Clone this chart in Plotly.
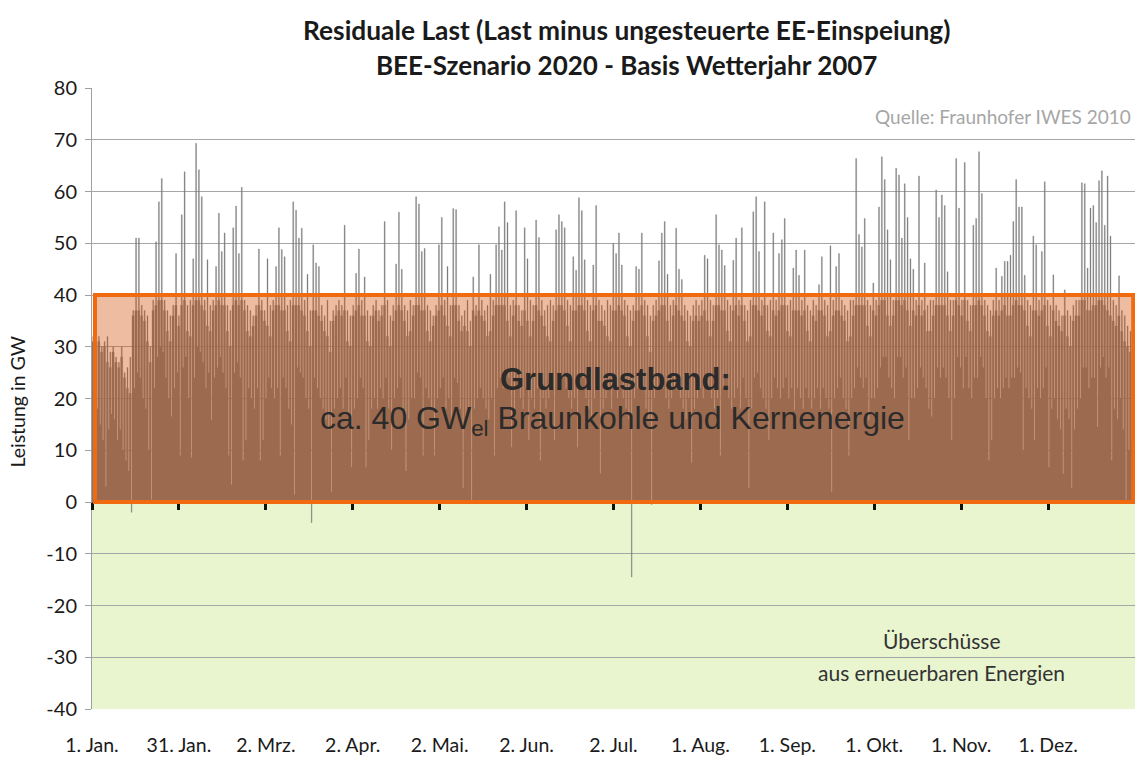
import plotly.graph_objects as go

# Daily peak residual load (GW), day 0 = 1 Jan
daily_peak = [
    32, 31, 32, 30, 31, 32, 29,
    30, 28, 27, 30, 25, 26, 28,
    37, 51, 51, 38, 37, 36, 30,
    39, 50.3, 58, 62.5, 39, 37, 36,
    38, 48, 36, 55.5, 63.8, 38, 39,
    47, 69.3, 64.2, 59, 39, 46.8, 38,
    39, 45.5, 55.8, 48.4, 52, 38, 37,
    53, 57.2, 48, 60.8, 39, 38, 37,
    36, 38, 48.9, 39, 37, 47, 38,
    39, 45.5, 53, 48.8, 47.4, 38, 39,
    58, 56.4, 51, 52.9, 39, 44, 37,
    49.7, 46.2, 45.5, 38, 36, 39, 35,
    37, 38, 39, 38, 53.5, 37, 36,
    38, 44.2, 48.9, 39, 43.5, 37, 36,
    38, 39, 37, 38, 54.2, 39, 36,
    38, 46, 56, 45, 38, 37, 39,
    38, 59, 57.6, 48.4, 49, 38, 37,
    36, 38, 49.7, 55, 39, 45.5, 38,
    56.7, 56.5, 38, 36, 37, 39, 35,
    43.5, 38, 49.7, 39, 37, 38, 44,
    39, 49.7, 53.2, 48.7, 58, 54, 38,
    39, 56.3, 38, 37, 53, 47, 39,
    38, 54.5, 51.1, 39, 37, 38, 39,
    38, 52.6, 55.5, 54.2, 53, 39, 38,
    47.4, 44.8, 58.8, 56.3, 46.8, 39, 38,
    45.8, 57.3, 39, 38, 37, 39, 38,
    50, 48, 52, 45.8, 39, 38, 37,
    38, 45.5, 45, 52, 39, 38, 36,
    38, 39, 46.6, 52, 54.2, 44, 38,
    39, 52.9, 45, 43, 38, 37, 36,
    38, 39, 38, 39, 47.7, 47, 39,
    38, 55.5, 49.7, 48.7, 45.7, 39, 38,
    46.7, 51, 39, 53, 38, 37, 39,
    56.1, 59, 48.4, 39, 58, 38, 39,
    52, 39, 48, 50.7, 54.8, 38, 39,
    45.2, 48.7, 43.8, 39, 48.7, 38, 37,
    39, 38, 42, 47.4, 39, 38, 49.5,
    39, 45.5, 48, 39, 38, 37, 39,
    39, 66.4, 51.7, 49.3, 54.8, 39, 38,
    42.3, 39, 57, 66.7, 62.3, 52.6, 46.8,
    39, 64.5, 63.2, 51, 61.5, 55, 47,
    45, 39, 63, 39, 46.2, 38, 39,
    39, 60.3, 55, 59.3, 57.3, 44.5, 39,
    39, 66.4, 56.8, 39, 65.6, 39, 38,
    53.5, 54.8, 67.7, 59.6, 39, 38, 37,
    39, 45.2, 39, 43.6, 46.5, 46.5, 47.7,
    54.2, 62.3, 57, 57, 43.8, 39, 38,
    51.4, 49.7, 39, 48.4, 61.9, 39, 38,
    43.9, 38, 37, 36, 41, 37, 36,
    38, 39, 39, 61.7, 61.5, 45.2, 56.8,
    57.3, 54, 62.1, 64, 53.5, 63, 51.4,
    39, 38, 43.7, 37, 36, 34, 33,
    32,
]

# Typical daytime level (GW) around the peak, read from the brown envelope
daily_level = [
    31, 30, 31, 29, 30, 27, 26,
    29, 27, 26, 28, 24, 22, 21,
    36, 37, 37, 36, 35, 31, 27,
    37, 38, 39, 39, 37, 33, 31,
    36, 38, 34, 38, 39, 33, 32,
    38, 39, 39, 38, 37, 34, 33,
    37, 38, 39, 38, 38, 33, 30,
    38, 39, 38, 39, 37, 33, 32,
    34, 36, 38, 37, 35, 34, 32,
    37, 38, 38, 37, 37, 33, 31,
    38, 38, 38, 37, 36, 33, 30,
    37, 37, 36, 35, 33, 32, 29,
    35, 36, 37, 36, 37, 31, 30,
    36, 37, 38, 36, 36, 31, 30,
    36, 37, 35, 36, 38, 32, 30,
    35, 37, 38, 37, 35, 32, 33,
    36, 38, 38, 37, 37, 33, 31,
    34, 36, 37, 38, 36, 34, 32,
    38, 38, 35, 33, 34, 33, 30,
    37, 36, 37, 36, 35, 32, 33,
    36, 38, 38, 38, 38, 35, 32,
    36, 38, 35, 34, 37, 35, 32,
    35, 38, 37, 36, 34, 32, 31,
    35, 37, 38, 38, 37, 34, 31,
    37, 37, 38, 38, 37, 33, 31,
    37, 38, 35, 35, 34, 32, 31,
    37, 37, 38, 37, 36, 32, 30,
    35, 37, 37, 38, 36, 32, 29,
    35, 36, 37, 38, 38, 35, 31,
    36, 38, 37, 36, 35, 31, 30,
    35, 36, 35, 36, 37, 35, 32,
    35, 38, 38, 37, 37, 33, 31,
    37, 38, 36, 38, 35, 31, 32,
    38, 38, 37, 36, 38, 33, 32,
    37, 36, 37, 38, 38, 33, 32,
    37, 37, 37, 36, 37, 33, 31,
    36, 35, 37, 37, 36, 32, 33,
    36, 37, 37, 36, 35, 31, 32,
    36, 38, 38, 38, 38, 34, 32,
    37, 36, 38, 39, 39, 36, 34,
    36, 39, 39, 38, 39, 37, 34,
    37, 36, 38, 36, 37, 33, 33,
    36, 38, 38, 38, 38, 36, 33,
    36, 39, 38, 36, 39, 35, 33,
    38, 38, 39, 38, 36, 33, 32,
    36, 37, 36, 37, 38, 36, 36,
    38, 39, 38, 38, 37, 34, 32,
    37, 37, 36, 37, 38, 34, 32,
    37, 35, 34, 33, 36, 32, 30,
    35, 36, 36, 39, 39, 37, 37,
    38, 38, 39, 39, 38, 37, 36,
    35, 34, 36, 33, 31, 30, 29,
    30,
]

# Daily minimum residual load (GW)
daily_low = [
    20, 18, 15, 12, 3, 14, 17,
    16, 12, 14, 10, 8, 6, -2,
    22, 25, 24, 20, 18, 10, 0.5,
    22, 28, 30, 29, 24, 20, 16.5,
    22, 25, 9, 26, 28, 20, 8.6,
    24, 30, 29, 27, 22, 25, 15.8,
    24, 26, 28, 25, 22, 9, 3.4,
    25, 27, 24, 8, 12, 22, 20,
    18, 22, 8, 12, 20, 24, 22,
    20, 22, 9, 24, 22, 18, 15,
    1.4, 26, 25, 24, 20, 18, -4,
    24, 22, 20, 18, 16, 14, 2,
    18, 20, 22, 18, 24, 16, 6.7,
    18, 20, 24, 22, 6.7, 12, 18,
    20, 18, 22, 20, 24, 18, 10,
    20, 22, 24, 18, 6, 16, 20,
    20, 25, 24, 9, 22, 20, 18,
    9, 20, 22, 24, 18, 20, 14.5,
    24, 23, 18, 2.7, 16, 18, 0,
    18, 20, 22, 20, 18, 16, 20,
    9, 22, 24, 22, 25, 24, 10.6,
    18, 24, 20, 18, 22, 12, 20,
    18, 22, 8, 20, 18, 20, 22,
    12, 22, 24, 24, 22, 20, 18,
    20, 10.6, 24, 24, 20, 18, 16,
    20, 24, 5.5, 18, 20, 22, 18,
    22, 20, 24, 20, 18, 16, -14.5,
    20, 22, 24, 22, 18, 16, -0.5,
    20, 22, 24, 22, 20, 18, 20,
    22, 24, 20, 18, 16, 20, 7.6,
    18, 20, 22, 20, 24, 22, 20,
    18, 20, 9, 22, 24, 20, 18,
    20, 22, 18, 24, 20, 2.7, 18,
    24, 25, 22, 20, 18, 12, 20,
    24, 22, 20, 22, 24, 20, 22,
    17.8, 22, 20, 18, 22, 20, 18,
    20, 22, 18, 22, 20, 18, 2,
    20, 22, 24, 20, 18, 9, 20,
    22, 26, 24, 22, 24, 15.8, 20,
    20, 22, 26, 28, 28, 24, 22,
    20, 28, 28, 24, 26, 12, 20,
    20, 22, 26, 24, 22, 18, 16.5,
    20, 26, 24, 26, 24, 20, 12,
    20, 28, 26, 22, 28, 22, 20,
    24, 24, 28, 26, 20, 8, 12,
    20, 22, 20, 22, 24, 22, 24,
    24, 26, 25, 10, 22, 20, 18,
    12, 22, 20, 22, 26, 6.7, 18,
    20, 16, 14, 5.4, 18, 16, 2.7,
    14, 18, 20, 26, 26, 22, 24,
    24, 14.5, 26, 28, 24, 26, 8,
    18, 16, 20, 14, 0.5, 10, 12,
    15,
]

tick_hours = [0, 730, 1460, 2190, 2920, 3650, 4380, 5110, 5840, 6570, 7300, 8030]
tick_labels = ["1. Jan.", "31. Jan.", "2. Mrz.", "2. Apr.", "2. Mai.", "2. Jun.",
               "2. Jul.", "1. Aug.", "1. Sep.", "1. Okt.", "1. Nov.", "1. Dez."]
y_ticks = [-40, -30, -20, -10, 0, 10, 20, 30, 40, 50, 60, 70, 80]
y_tick_labels = ["-40", "-30", "-20", "-10", "0", "10", "20", "30", "40", "50", "60", "70", "80"]

base_load = 40
y_min, y_max = -40, 80
hours_per_year = 8760

# each day: daytime level, peak hours, level again, night low
xs, ys = [], []
for d in range(len(daily_peak)):
    h = d * 24
    xs += [h, h + 6, h + 14, h + 18]
    ys += [daily_level[d], daily_peak[d], daily_level[d], daily_low[d]]
xs.append(hours_per_year)
ys.append(daily_level[-1])

FONT = "Lato, 'Open Sans', sans-serif"
ARIAL = "'Liberation Sans', Arial, sans-serif"

fig = go.Figure()
fig.add_trace(go.Scatter(
    x=xs, y=ys, mode="lines", line=dict(color="#7a7a7a", width=0.3, shape="hv"),
    fill="tozeroy", fillcolor="#7a7a7a", hoverinfo="skip", showlegend=False,
))
fig.add_trace(go.Scatter(x=[0, hours_per_year], y=[0, 0], xaxis="x2", mode="lines",
                         line=dict(width=0), hoverinfo="skip", showlegend=False))

fig.add_shape(type="rect", xref="x", yref="y", x0=0, x1=hours_per_year, y0=y_min, y1=0,
              fillcolor="#e9f5cf", line=dict(width=0), layer="below")
fig.add_shape(type="rect", xref="x", yref="y", x0=25, x1=8745, y0=0, y1=base_load,
              fillcolor="rgba(211,83,11,0.39)", line=dict(color="#f26a10", width=4),
              layer="above")

fig.update_layout(
    width=1138, height=758,
    margin=dict(l=92, r=3, t=88, b=49),
    paper_bgcolor="white", plot_bgcolor="white",
    font=dict(family=FONT, size=20, color="#1a1a1a"),
    xaxis=dict(range=[0, hours_per_year], tickvals=tick_hours, ticktext=tick_labels,
               showgrid=False, zeroline=False, showline=False, ticks="",
               ticklabelstandoff=22, tickfont=dict(size=19.5), automargin=False),
    xaxis2=dict(range=[0, hours_per_year], overlaying="x", anchor="free", position=1 / 3,
                side="bottom", tickvals=tick_hours, showticklabels=False,
                ticks="outside", ticklen=7, tickwidth=3, tickcolor="#111111",
                showgrid=False, zeroline=False, showline=True, linecolor="#555555",
                linewidth=1, automargin=False),
    yaxis=dict(range=[y_min, y_max], tickvals=y_ticks, ticktext=y_tick_labels,
               showgrid=True, gridcolor="#a6a6a6", gridwidth=1,
               zeroline=False, showline=True, linecolor="#a0a0a0", linewidth=1,
               ticks="outside", ticklen=6, tickcolor="#a0a0a0", tickfont=dict(size=20),
               ticklabelstandoff=4, automargin=False),
    showlegend=False,
)

ann = [
    dict(text="<b>Residuale Last (Last minus ungesteuerte EE-Einspeiung)</b>", xref="paper", yref="paper",
         x=0.512, y=(709 - 30) / 621, font=dict(size=26.3)),
    dict(text="<b>BEE-Szenario 2020 - Basis Wetterjahr 2007</b>", xref="paper", yref="paper",
         x=0.512, y=(709 - 65) / 621, font=dict(size=26)),
    dict(text="Leistung in GW", xref="paper", yref="paper", x=(18 - 92) / 1043, y=0.495,
         textangle=-90, font=dict(size=19.5)),
    dict(text="Quelle: Fraunhofer IWES 2010", xref="x", yref="y", x=8740, y=74.4,
         xanchor="right", font=dict(size=19, color="#a6a6a6")),
    dict(text="<b>Grundlastband:</b>", xref="x", yref="y", x=4393, y=23.6,
         font=dict(size=31, family=ARIAL, color="#2b2b2b")),
    dict(text="ca. 40 GW<sub>el</sub> Braunkohle und Kernenergie", xref="x", yref="y", x=4375, y=15.8,
         font=dict(size=32, family=ARIAL, color="#2b2b2b")),
    dict(text="Überschüsse", xref="x", yref="y", x=7131, y=-26.7,
         font=dict(size=21, color="#333333")),
    dict(text="aus erneuerbaren Energien", xref="x", yref="y", x=7131, y=-33.0,
         font=dict(size=21, color="#333333")),
]
for a in ann:
    a.setdefault("xanchor", "center")
    a["yanchor"] = "middle"
    a["showarrow"] = False
fig.update_layout(annotations=ann)

fig.write_html("out.html", config={"displayModeBar": False},
               post_script="document.body.style.margin='0';")
